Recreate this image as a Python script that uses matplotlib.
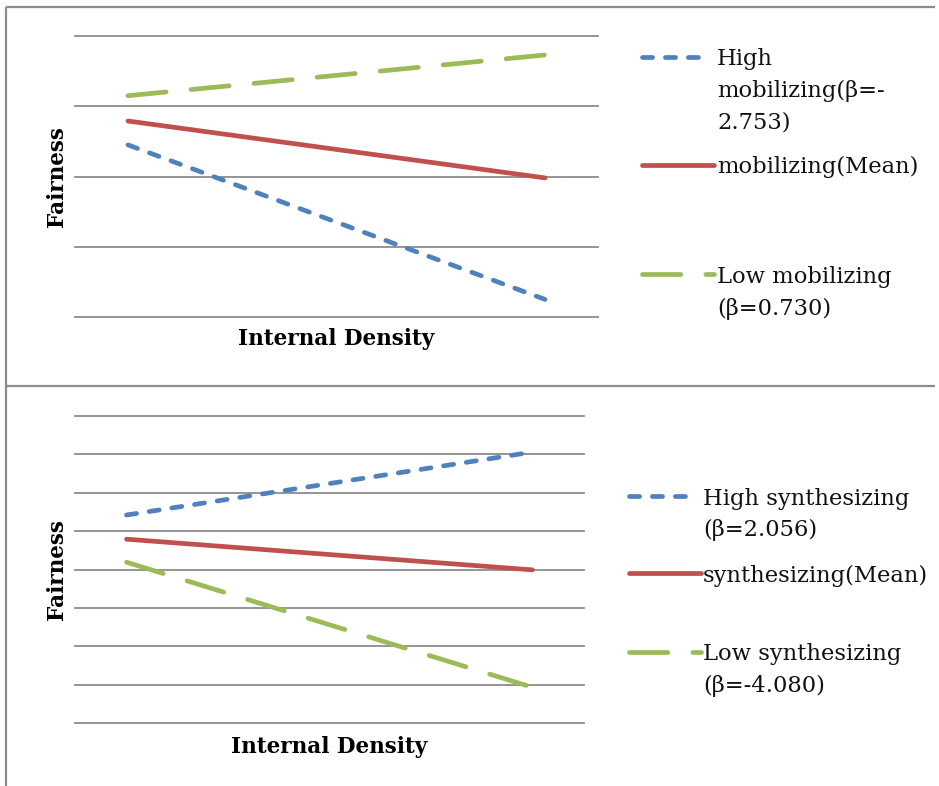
import matplotlib
matplotlib.use('Agg')
import matplotlib.pyplot as plt
from matplotlib.lines import Line2D

plt.rcParams['lines.scale_dashes'] = False

# ── Datos ─────────────────────────────────────────────────────────────
density_levels = [0, 1]  # baja / alta densidad interna

mob_high = [2.45, 0.25]
mob_mean = [2.79, 1.98]
mob_low = [3.15, 3.73]

syn_high = [5.42, 7.06]
syn_mean = [4.79, 3.99]
syn_low = [4.19, 0.93]

mob_labels = ['High\nmobilizing(β=-\n2.753)', 'mobilizing(Mean)', 'Low mobilizing\n(β=0.730)']
syn_labels = ['High synthesizing\n(β=2.056)', 'synthesizing(Mean)', 'Low synthesizing\n(β=-4.080)']

BLUE, RED, GREEN = '#4F81BD', '#C0504D', '#9BBB59'
GRID = '#8C8C8C'
LW = 3.4
SHORT_DASH = (0, (7.3, 9.2))
LONG_DASH = (0, (27.6, 18.0))

W, H = 939, 786
fig = plt.figure(figsize=(W / 100, H / 100), dpi=100)


def fx(x):
    return x / W


def fy(y):
    return 1 - y / H


SERIF = 'DejaVu Serif'


def panel(box, high, mean, low, n_grid, labels, leg):
    x0, y0, x1, y1 = box
    ax = fig.add_axes([fx(x0), fy(y1), fx(x1) - fx(x0), fy(y0) - fy(y1)])
    ax.plot(density_levels, high, color=BLUE, lw=LW, linestyle=SHORT_DASH,
            dash_capstyle='round', solid_capstyle='round')
    ax.plot(density_levels, mean, color=RED, lw=LW, solid_capstyle='round')
    ax.plot(density_levels, low, color=GREEN, lw=LW, linestyle=LONG_DASH,
            dash_capstyle='round', solid_capstyle='round')
    ax.set_xlim(-0.127, 1.127)
    ax.set_ylim(0, n_grid)
    ax.set_yticks(range(n_grid + 1))
    ax.set_xticks([])
    ax.tick_params(left=False, labelleft=False)
    ax.grid(True, axis='y', color=GRID, lw=1.3)
    for g in ax.get_ygridlines():
        g.set_clip_on(False)
    ax.set_axisbelow(True)
    for s in ax.spines.values():
        s.set_visible(False)

    # leyenda dibujada a mano
    hx0, rows, tx = leg
    styles = [(BLUE, SHORT_DASH, 62), (RED, '-', 72), (GREEN, LONG_DASH, 72)]
    for (color, ls, length), (yline, baselines), label in zip(styles, rows, labels):
        fig.add_artist(Line2D([fx(hx0), fx(hx0 + length)], [fy(yline), fy(yline)],
                              color=color, lw=LW, linestyle=ls,
                              dash_capstyle='round', solid_capstyle='round'))
        for yb, line in zip(baselines, label.split('\n')):
            fig.text(fx(tx), fy(yb), line, ha='left', va='baseline',
                     fontsize=16.3, family=SERIF, color='#111111')
    return ax


ax1 = panel((75, 36, 598, 317), mob_high, mob_mean, mob_low, 4, mob_labels,
            (642, [(56.5, [65, 97, 128]), (165, [173]), (274, [283, 315])], 717))
ax2 = panel((75, 416, 584, 723), syn_high, syn_mean, syn_low, 8, syn_labels,
            (629, [(496, [505, 536]), (573, [582]), (651.5, [660, 692])], 703))

# títulos de ejes
for yc, xb in [(177, (336.5, 345)), (570, (329.5, 753))]:
    fig.text(fx(56.5), fy(yc), 'Fairness', rotation=90, ha='center', va='center',
             fontsize=15.5, fontweight='bold', family=SERIF)
    fig.text(fx(xb[0]), fy(xb[1]), 'Internal Density', ha='center', va='baseline',
             fontsize=15.5, fontweight='bold', family=SERIF)

# marcos de los paneles
frame = dict(color='#8C8C8C', lw=1.6, solid_capstyle='butt')
fig.add_artist(Line2D([fx(6), fx(935)], [fy(7), fy(7)], **frame))
fig.add_artist(Line2D([fx(6), fx(935)], [fy(386), fy(386)], **frame))
fig.add_artist(Line2D([fx(6), fx(6)], [fy(7), fy(786)], **frame))

fig.savefig('out.png', dpi=100)
